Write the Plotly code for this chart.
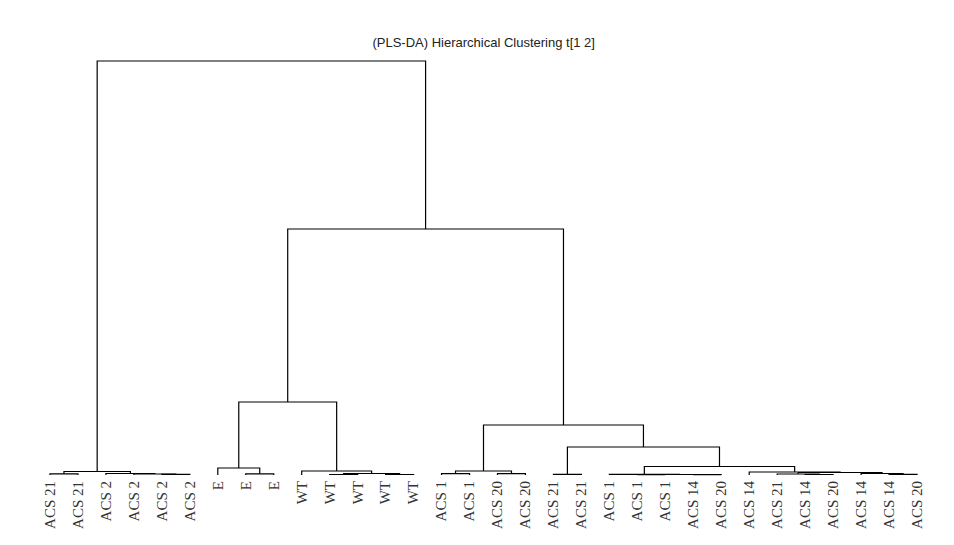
import plotly.graph_objects as go

# Leaf labels in dendrogram order
leaf_labels = ["ACS 21", "ACS 21", "ACS 2", "ACS 2", "ACS 2", "ACS 2",
               "E", "E", "E", "WT", "WT", "WT", "WT", "WT",
               "ACS 1", "ACS 1", "ACS 20", "ACS 20", "ACS 21", "ACS 21",
               "ACS 1", "ACS 1", "ACS 1", "ACS 14", "ACS 20",
               "ACS 14", "ACS 21", "ACS 14", "ACS 20", "ACS 14", "ACS 14", "ACS 20"]

# Linkage: (child a, child b, merge height); leaves 0..31, clusters 32..
link_a = [4, 3, 2, 0, 35, 7, 6, 10, 12, 39, 9, 38, 14, 16, 44, 18, 21, 23, 48, 20,
          27, 26, 30, 29, 53, 25, 51, 47, 46, 43, 36]
link_b = [5, 32, 33, 1, 34, 8, 37, 11, 13, 40, 41, 42, 15, 17, 45, 19, 22, 24, 49, 50,
          28, 52, 31, 54, 55, 56, 57, 58, 59, 60, 61]
link_h = [0.007, 0.010, 0.015, 0.012, 0.035, 0.012, 0.07, 0.005, 0.005, 0.015, 0.04, 0.73,
          0.013, 0.013, 0.04, 0.007, 0.003, 0.003, 0.005, 0.007,
          0.005, 0.010, 0.007, 0.015, 0.025, 0.03, 0.085, 0.28, 0.50, 2.46, 4.14]

n = len(leaf_labels)
node_x = {i: i + 1 for i in range(n)}
node_h = {i: 0.0 for i in range(n)}
xs, ys = [], []
for k, (a, b, h) in enumerate(zip(link_a, link_b, link_h)):
    xa, xb = node_x[a], node_x[b]
    xs += [xa, xa, xb, xb, None]
    ys += [node_h[a], h, h, node_h[b], None]
    node_x[n + k] = (xa + xb) / 2
    node_h[n + k] = h

fig = go.Figure(go.Scatter(x=xs, y=ys, mode="lines",
                           line=dict(color="#000000", width=1.2),
                           hoverinfo="skip", showlegend=False))

fig.update_layout(
    width=954, height=545,
    margin=dict(l=22, r=9, t=50, b=68),
    paper_bgcolor="white", plot_bgcolor="white",
    title=dict(text="(PLS-DA) Hierarchical Clustering t[1 2]",
               x=0.507, xanchor="center", y=1 - 42 / 545, yanchor="middle",
               yref="container",
               font=dict(family="Liberation Sans, Arial", size=13, color="#222222")),
    xaxis=dict(range=[0, n + 1], tickmode="array",
               tickvals=list(range(1, n + 1)), ticktext=leaf_labels,
               tickangle=-90, showgrid=False, zeroline=False, showline=False,
               ticks="", tickfont=dict(family="Liberation Serif, Times New Roman",
                                       size=15, color="#333333")),
    yaxis=dict(range=[-0.02, 4.25], visible=False, showgrid=False, zeroline=False),
)

fig.write_html("out.html", config={"displayModeBar": False},
               post_script="document.body.style.margin='0px';document.body.style.padding='0px';")
